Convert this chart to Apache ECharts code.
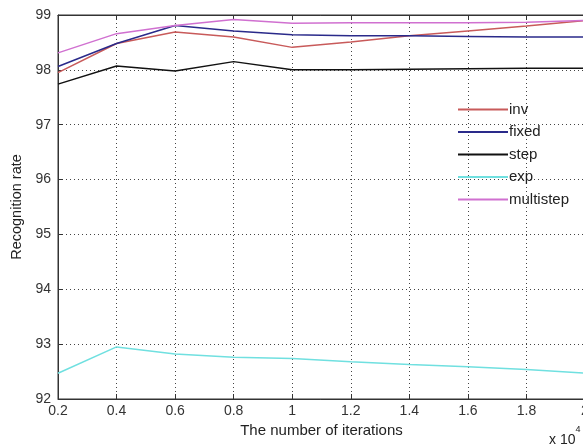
<!DOCTYPE html>
<html lang="en">
<head>
    <meta charset="UTF-8">
    <title>Recognition rate</title>
    <script src="https://cdn.jsdelivr.net/npm/echarts@6/dist/echarts.min.js"></script>
    <style>
        html, body { margin: 0; padding: 0; background: #fff; }
        #chart { width: 583px; height: 445px; }
    </style>
</head>
<body>
<div id="chart"></div>
<script type="text/javascript">
    // iterations (x 10^4)
    var iterations = [0.2, 0.4, 0.6, 0.8, 1.0, 1.2, 1.4, 1.6, 1.8, 2.0];

    var inv       = [97.95, 98.48, 98.69, 98.60, 98.41, 98.51, 98.62, 98.71, 98.80, 98.90];
    var fixed     = [98.06, 98.48, 98.81, 98.71, 98.64, 98.62, 98.62, 98.61, 98.60, 98.60];
    var step      = [97.74, 98.07, 97.98, 98.15, 98.00, 98.00, 98.01, 98.02, 98.03, 98.03];
    var expRate   = [92.47, 92.95, 92.82, 92.76, 92.74, 92.68, 92.63, 92.59, 92.54, 92.47];
    var multistep = [98.31, 98.66, 98.81, 98.92, 98.85, 98.86, 98.86, 98.86, 98.87, 98.90];

    var names  = ['inv', 'fixed', 'step', 'exp', 'multistep'];
    var values = [inv, fixed, step, expRate, multistep];
    var colors = ['#c85a5a', '#2a2a8a', '#111111', '#70e0e0', '#d070d0'];

    function pairs(arr) {
        return iterations.map(function (x, i) { return [x, arr[i]]; });
    }

    var series = names.map(function (n, i) {
        return {
            name: n,
            type: 'line',
            data: pairs(values[i]),
            showSymbol: false,
            symbol: 'none',
            lineStyle: { color: colors[i], width: 1.5 },
            itemStyle: { color: colors[i] },
            z: 3
        };
    });

    var myChart = echarts.init(document.getElementById('chart'));
    var font = 'Liberation Sans, Arial, sans-serif';

    myChart.setOption({
        backgroundColor: '#fff',
        animation: false,
        grid: {
            left: 58, top: 15, right: -2, bottom: 46,
            outerBoundsMode: 'none',
            containLabel: false,
            show: true, borderColor: '#333', borderWidth: 1
        },
        legend: {
            data: names,
            orient: 'vertical',
            left: 453, top: 97,
            icon: 'rect',
            itemWidth: 50, itemHeight: 2,
            itemGap: 7.5,
            textStyle: { fontFamily: font, fontSize: 15, color: '#222', padding: [0, 0, 0, -4] }
        },
        xAxis: [{
            type: 'value',
            min: 0.2, max: 2, interval: 0.2,
            name: 'The number of iterations',
            nameLocation: 'middle',
            nameGap: 20,
            nameTextStyle: { fontFamily: font, fontSize: 15, color: '#222' },
            axisLine: { lineStyle: { color: '#333' } },
            axisTick: { inside: true, length: 5, lineStyle: { color: '#333' } },
            axisLabel: {
                fontFamily: font, fontSize: 14, color: '#333', margin: 5,
                formatter: function (v) { return String(Math.round(v * 10) / 10); }
            },
            splitLine: { show: true, lineStyle: { color: '#444', type: [1, 3], width: 1 } }
        }, {
            type: 'value',
            position: 'top',
            min: 0.2, max: 2, interval: 0.2,
            axisLine: { show: true, lineStyle: { color: '#333' } },
            axisTick: { inside: true, length: 5, lineStyle: { color: '#333' } },
            axisLabel: { show: false },
            splitLine: { show: false }
        }],
        yAxis: {
            type: 'value',
            min: 92, max: 99, interval: 1,
            name: 'Recognition rate',
            nameLocation: 'middle',
            nameGap: 34,
            nameTextStyle: { fontFamily: font, fontSize: 14.5, color: '#222' },
            axisLine: { show: true, lineStyle: { color: '#333' } },
            axisTick: { inside: true, length: 5, lineStyle: { color: '#333' } },
            axisLabel: { fontFamily: font, fontSize: 14, color: '#333', margin: 7 },
            splitLine: { show: true, lineStyle: { color: '#444', type: [1, 3], width: 1 } }
        },
        graphic: [{
            type: 'text',
            left: 549, top: 425,
            style: {
                text: '{a|x 10}{b|4}',
                rich: {
                    a: { fontFamily: font, fontSize: 14, fill: '#222', padding: [8, 0, 0, 0] },
                    b: { fontFamily: font, fontSize: 9, fill: '#222', verticalAlign: 'top' }
                }
            }
        }],
        series: series
    });
</script>
</body>
</html>
